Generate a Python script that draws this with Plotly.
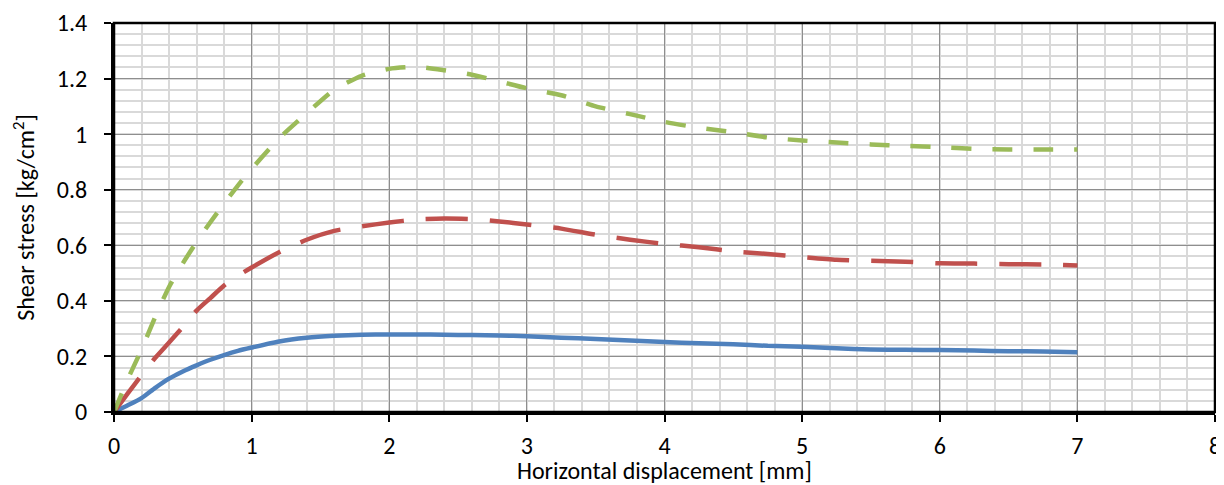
import plotly.graph_objects as go

displacement = [0, 0.1, 0.2, 0.3, 0.4, 0.5, 0.6, 0.7, 0.8, 0.9, 1.0, 1.2, 1.4, 1.6, 1.8,
                2.0, 2.2, 2.4, 2.6, 2.8, 3.0, 3.25, 3.5, 3.75, 4.0, 4.25, 4.5, 4.75,
                5.0, 5.25, 5.5, 5.75, 6.0, 6.25, 6.5, 6.75, 7.0]

stress_low = [0, 0.024, 0.050, 0.087, 0.120, 0.146, 0.168, 0.188, 0.205, 0.220, 0.232,
              0.254, 0.267, 0.274, 0.278, 0.279, 0.279, 0.278, 0.277, 0.275, 0.273,
              0.267, 0.263, 0.257, 0.252, 0.247, 0.244, 0.238, 0.235, 0.229, 0.225,
              0.224, 0.223, 0.221, 0.219, 0.218, 0.215]

stress_mid = [0, 0.067, 0.132, 0.195, 0.250, 0.306, 0.365, 0.410, 0.455, 0.490, 0.520,
              0.575, 0.620, 0.652, 0.668, 0.682, 0.693, 0.696, 0.694, 0.686, 0.675,
              0.660, 0.638, 0.620, 0.605, 0.593, 0.578, 0.569, 0.558, 0.548, 0.544,
              0.541, 0.535, 0.534, 0.532, 0.531, 0.527]

stress_high = [0, 0.118, 0.225, 0.343, 0.450, 0.535, 0.612, 0.683, 0.750, 0.815, 0.875,
               0.985, 1.075, 1.160, 1.210, 1.235, 1.242, 1.230, 1.214, 1.190, 1.165,
               1.140, 1.100, 1.072, 1.044, 1.023, 1.007, 0.988, 0.977, 0.970, 0.963,
               0.958, 0.953, 0.947, 0.945, 0.945, 0.945]

x_ticks = [0, 1, 2, 3, 4, 5, 6, 7, 8]
y_ticks = [0, 0.2, 0.4, 0.6, 0.8, 1.0, 1.2, 1.4]
y_tick_labels = ["0", "0.2", "0.4", "0.6", "0.8", "1", "1.2", "1.4"]
x_title = "Horizontal displacement [mm]"
y_title = "Shear stress [kg/cm<sup>2</sup>]"

FONT = "Carlito, Calibri, Lato, sans-serif"

fig = go.Figure()
fig.add_trace(go.Scatter(x=displacement, y=stress_low, mode="lines",
                         line=dict(color="#4F81BD", width=4.5, shape="spline", smoothing=0.6),
                         showlegend=False))
fig.add_trace(go.Scatter(x=displacement, y=stress_mid, mode="lines",
                         line=dict(color="#C0504D", width=4.5, dash="42px,22px",
                                   shape="spline", smoothing=0.6),
                         showlegend=False))
fig.add_trace(go.Scatter(x=displacement, y=stress_high, mode="lines",
                         line=dict(color="#9BBB59", width=4.5, dash="20px,21px",
                                   shape="spline", smoothing=0.6),
                         showlegend=False))

# page body has an 8px default margin, so the figure is sized/offset to compensate
fig.update_layout(
    width=1216, height=477,
    margin=dict(l=106, r=9, t=15, b=73, autoexpand=False),
    paper_bgcolor="white", plot_bgcolor="white",
    font=dict(family=FONT, size=24, color="#000000"),
    shapes=[dict(type="rect", xref="paper", yref="paper", x0=0, x1=1, y0=0, y1=1,
                 line=dict(color="black", width=2.5), layer="above")],
    annotations=[dict(text=x_title, xref="paper", yref="paper", x=0.5, y=0,
                      xanchor="center", yanchor="middle", yshift=-58,
                      showarrow=False, font=dict(size=24, family=FONT, color="#000000"))],
)
fig.update_xaxes(
    automargin=False,
    range=[0, 8], tickvals=x_ticks, ticktext=[str(v) for v in x_ticks],
    showgrid=True, gridcolor="#8E8E8E", gridwidth=1.3,
    minor=dict(dtick=0.2, showgrid=True, gridcolor="#D9D9D9", gridwidth=1.5),
    showline=True, linecolor="black", linewidth=3,
    ticks="outside", ticklen=7, tickwidth=2, tickcolor="black",
    ticklabelstandoff=3,
    zeroline=False,
)
fig.update_yaxes(
    automargin=False,
    range=[0, 1.4], tickvals=y_ticks, ticktext=y_tick_labels,
    showgrid=True, gridcolor="#8E8E8E", gridwidth=1.3,
    minor=dict(dtick=0.04, showgrid=True, gridcolor="#D9D9D9", gridwidth=1.5),
    showline=True, linecolor="black", linewidth=3,
    ticks="outside", ticklen=7, tickwidth=2, tickcolor="black",
    ticklabelstandoff=12,
    zeroline=False,
    title=dict(text=y_title, font=dict(size=24), standoff=18),
)

fig.write_html("out.html")
